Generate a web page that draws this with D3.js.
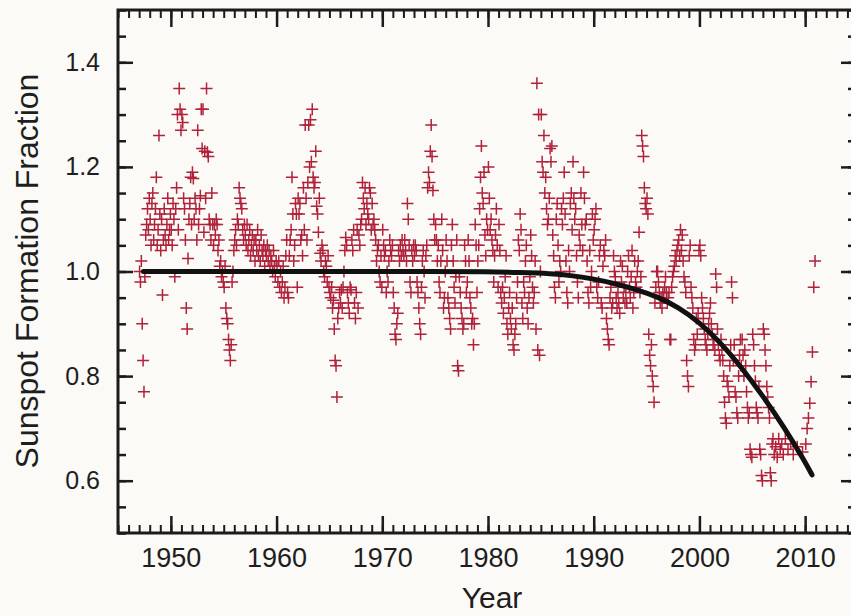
<!DOCTYPE html>
<html><head><meta charset="utf-8">
<script src="https://cdn.jsdelivr.net/npm/d3@7"></script>
<style>html,body{margin:0;padding:0;background:#fbfaf6;} svg{display:block;}</style>
</head><body>
<svg id="chart" width="851" height="616"></svg>
<script>
// ---- data ----
const obsYears = [1947,1948,1949,1950,1951,1952,1953,1954,1955,1956,1957,1958,1959,
  1960,1961,1962,1963,1964,1965,1966,1967,1968,1969,1970,1971,1972,1973,1974,1975,1976,1977,1978,1979,
  1980,1981,1982,1983,1984,1985,1986,1987,1988,1989,1990,1991,1992,1993,1994,1995,1996,1997,1998,1999,
  2000,2001,2002,2003,2004,2005,2006,2007,2008,2009,2010];
const obsValues = [
  [1.00,0.98,1.02,0.90,0.83,0.77,0.99,1.07,1.09,1.12,1.08,1.14],
  [1.10,1.05,1.13,1.15,1.06,1.09,1.12,1.18,1.05,1.08,1.26,1.11],
  [1.04,1.10,0.955,1.06,1.12,1.07,1.05,1.09,1.14,1.06,1.08,1.11],
  [1.08,1.05,1.13,1.10,0.99,1.12,1.16,1.30,1.08,1.35,1.31,1.27],
  [1.30,1.285,1.14,1.12,1.06,0.93,0.89,1.025,1.10,1.13,1.18,1.09],
  [1.19,1.178,1.10,1.14,1.12,1.06,1.27,1.09,1.12,1.145,1.31,1.235],
  [1.31,1.075,1.23,1.14,1.35,1.228,1.22,1.10,1.09,1.06,1.15,1.09],
  [1.05,1.09,1.07,1.10,1.09,1.04,1.06,1.01,1.02,0.99,1.00,0.98],
  [0.97,1.01,0.93,0.91,0.90,0.87,0.85,0.83,0.86,0.98,1.00,1.04],
  [1.06,1.08,1.05,1.10,1.09,1.16,1.14,1.13,1.12,1.08,1.06,1.09],
  [1.07,1.05,1.09,1.04,1.06,1.08,1.03,1.05,1.07,1.04,1.06,1.02],
  [1.06,1.04,1.08,1.03,1.05,1.02,1.07,1.04,1.03,1.05,1.01,1.04],
  [1.03,1.05,1.02,1.04,1.01,1.03,1.02,1.00,1.04,1.01,0.99,1.02],
  [1.01,0.98,1.02,0.97,1.00,0.96,0.98,1.01,0.95,0.97,1.03,1.06],
  [0.96,0.95,1.03,1.06,1.08,1.18,1.11,1.02,1.05,1.13,1.11,0.97],
  [1.14,1.11,1.13,1.06,1.07,1.03,1.16,1.08,1.28,1.14,1.06,1.17],
  [1.28,1.20,1.29,1.21,1.31,1.18,1.16,1.17,1.23,1.125,1.11,1.075],
  [1.14,1.035,1.02,1.05,1.04,1.00,0.99,1.02,1.01,0.98,1.03,0.97],
  [0.96,0.95,0.97,0.93,0.945,0.89,0.83,0.82,0.76,0.91,0.93,0.96],
  [0.94,0.965,0.93,0.97,1.00,1.04,1.065,1.05,0.96,0.94,0.92,0.97],
  [0.965,1.06,1.04,1.08,0.94,0.91,0.96,1.08,0.93,1.07,1.05,1.09],
  [1.10,1.17,1.14,1.12,1.16,1.09,1.13,1.11,1.10,1.16,1.15,1.08],
  [1.13,1.09,1.10,1.08,1.06,1.02,1.04,1.05,1.00,0.98,1.03,0.97],
  [1.08,1.05,1.03,1.04,0.96,1.00,0.98,1.02,1.06,1.04,1.03,1.05],
  [0.96,0.93,0.88,0.87,0.90,0.92,1.04,1.02,1.05,1.03,1.06,1.04],
  [1.03,1.06,1.04,1.02,1.13,1.10,1.05,0.98,0.96,1.04,1.02,1.05],
  [1.03,1.05,1.04,0.98,0.96,0.93,0.90,0.88,0.97,1.02,1.04,1.00],
  [0.95,1.03,1.05,1.16,1.19,1.17,1.23,1.28,1.22,1.155,1.10,1.06],
  [1.09,1.06,1.02,1.05,0.98,0.96,1.02,1.10,1.04,0.93,0.95,1.00],
  [1.06,1.02,0.95,0.93,0.91,0.89,1.05,1.09,1.02,0.97,0.94,0.99],
  [1.06,0.82,0.81,0.99,0.96,0.93,0.91,0.89,0.90,1.05,1.02,0.96],
  [0.98,1.06,1.02,0.95,0.93,0.90,0.91,0.86,0.90,1.09,1.05,0.96],
  [1.02,1.05,1.12,1.18,1.24,1.15,1.13,1.19,1.07,1.03,1.10,1.08],
  [1.20,1.14,1.08,1.10,1.06,1.04,0.98,1.03,1.07,1.12,1.05,0.97],
  [1.09,1.04,0.96,0.94,0.97,0.92,0.95,0.99,1.03,0.90,0.88,0.93],
  [0.96,0.91,0.89,0.93,0.86,0.85,0.88,0.90,0.95,0.98,1.06,1.04],
  [1.11,1.08,0.94,0.91,0.98,0.96,1.02,1.05,0.93,0.90,0.95,0.99],
  [1.07,1.03,0.97,0.94,0.96,1.02,0.89,1.36,0.85,1.30,0.84,1.00],
  [1.30,1.21,1.19,1.26,1.15,1.18,1.12,1.09,1.10,1.14,1.235,1.21],
  [1.24,1.07,1.03,0.97,0.95,1.10,1.13,1.05,0.98,1.02,1.00,1.12],
  [1.09,1.14,1.19,1.11,1.02,0.96,0.94,1.04,1.00,1.13,1.15,1.08],
  [1.21,1.14,1.10,1.12,1.03,0.98,0.95,1.07,1.05,1.15,1.09,1.04],
  [1.19,1.14,1.09,1.10,1.02,0.96,0.94,1.04,0.97,1.00,1.11,1.06],
  [1.08,1.10,1.12,0.97,0.95,0.98,1.03,1.05,0.94,0.93,1.01,1.04],
  [1.03,1.06,0.91,0.89,0.87,0.86,0.95,0.97,0.93,0.94,1.03,1.00],
  [0.99,0.95,0.93,0.96,0.94,0.92,1.02,0.98,1.01,0.95,0.97,0.94],
  [0.96,0.94,1.00,1.03,0.97,0.95,0.99,1.04,0.93,0.96,1.02,0.98],
  [0.97,1.00,1.02,1.075,0.96,0.99,1.26,1.24,1.22,1.16,1.13,1.12],
  [1.14,1.11,0.88,0.84,0.82,0.86,0.80,0.78,0.75,0.94,0.97,1.00],
  [1.00,0.98,0.96,0.94,0.95,0.93,0.96,0.95,0.97,0.99,0.96,0.94],
  [0.95,0.96,0.87,0.87,0.97,0.99,1.00,1.01,1.03,1.02,1.04,1.05],
  [1.06,1.03,1.08,1.04,1.07,1.02,0.99,0.98,0.96,0.83,0.80,0.78],
  [1.03,1.05,0.97,0.95,0.93,0.87,0.85,0.86,0.91,0.88,0.92,1.04],
  [1.05,1.03,0.95,0.93,0.91,0.89,0.87,0.86,0.85,0.88,0.90,0.92],
  [0.94,0.90,0.88,0.86,0.87,0.85,0.995,0.97,0.89,0.86,0.84,0.83],
  [0.87,0.85,0.83,0.80,0.75,0.72,0.71,0.79,0.78,0.76,0.82,0.86],
  [0.98,0.95,0.83,0.86,0.77,0.76,0.73,0.72,0.80,0.84,0.87,0.82],
  [0.87,0.84,0.80,0.85,0.82,0.77,0.74,0.72,0.73,0.66,0.65,0.645],
  [0.88,0.86,0.82,0.79,0.74,0.73,0.72,0.78,0.66,0.65,0.61,0.60],
  [0.89,0.88,0.85,0.82,0.78,0.76,0.74,0.72,0.615,0.60,0.67,0.68],
  [0.65,0.665,0.645,0.68,0.66,0.67,0.65],
  [0.68,0.66,0.67,0.65],
  [0.665,0.655],
  [0.67,0.70,0.72,0.748,0.789,0.846,0.97,1.02]
];
const fitYears  = [1947.4,1955,1965,1975,1980,1983,1986,1988,1990,1992,1994,1996,1998,2000,2002,2004,2006,2008,2010,2010.65];
const fitValues = [1.0,1.0,1.0,1.0,0.9995,0.998,0.996,0.992,0.986,0.977,0.966,0.952,0.932,0.903,0.864,0.816,0.762,0.703,0.636,0.611];
const xMajorTicks = [1950,1960,1970,1980,1990,2000,2010];
const yMajorTicks = [0.6,0.8,1.0,1.2,1.4];
const xTitle = "Year";
const yTitle = "Sunspot Formation Fraction";

// ---- layout ----
const svg = d3.select("#chart");
const L = 118, R = 858, T = 10, B = 533;
const x = d3.scaleLinear().domain([1945, 2015]).range([L, R]);
const y = d3.scaleLinear().domain([0.5, 1.5]).range([B, T]);
const ink = "#1b1b1b";
const red = "#b0213a";

const points = [];
obsYears.forEach((yr, i) => {
  const vals = obsValues[i];
  vals.forEach((v, m) => points.push({t: yr + (m + 0.5) / vals.length, v}));
});

svg.append("rect").attr("width", 851).attr("height", 616).attr("fill", "#fbfaf6");

// points
svg.append("g").selectAll("path").data(points).join("path")
  .attr("transform", d => `translate(${x(d.t)},${y(d.v)})`)
  .attr("d", "M-6,0H6M0,-6V6")
  .attr("stroke", red).attr("stroke-width", 1.5).attr("fill", "none");

// fit curve
const fit = fitYears.map((t, i) => ({t, v: fitValues[i]}));
svg.append("path").datum(fit)
  .attr("d", d3.line().x(d => x(d.t)).y(d => y(d.v)).curve(d3.curveBasis))
  .attr("fill", "none").attr("stroke", "#111").attr("stroke-width", 5).attr("stroke-linecap", "round");

// ticks
const minorX = d3.range(1945, 2016);
const minorY = d3.range(0, 21).map(i => +(0.5 + i * 0.05).toFixed(2));
function styleTicks(g, w) {
  g.select(".domain").remove();
  g.selectAll("line").attr("stroke", ink).attr("stroke-width", w);
  g.selectAll("text").remove();
}
svg.append("g").attr("transform", `translate(0,${B})`).call(d3.axisBottom(x).tickValues(minorX).tickSize(-8)).call(g => styleTicks(g, 2));
svg.append("g").attr("transform", `translate(0,${B})`).call(d3.axisBottom(x).tickValues(xMajorTicks).tickSize(-17)).call(g => styleTicks(g, 2.5));
svg.append("g").attr("transform", `translate(0,${T})`).call(d3.axisTop(x).tickValues(minorX).tickSize(-8)).call(g => styleTicks(g, 2));
svg.append("g").attr("transform", `translate(0,${T})`).call(d3.axisTop(x).tickValues(xMajorTicks).tickSize(-17)).call(g => styleTicks(g, 2.5));
svg.append("g").attr("transform", `translate(${L},0)`).call(d3.axisLeft(y).tickValues(minorY).tickSize(-8)).call(g => styleTicks(g, 2.5));
svg.append("g").attr("transform", `translate(${L},0)`).call(d3.axisLeft(y).tickValues(yMajorTicks).tickSize(-15)).call(g => styleTicks(g, 2.5));
svg.append("g").attr("transform", `translate(${R},0)`).call(d3.axisRight(y).tickValues(minorY).tickSize(-10)).call(g => styleTicks(g, 2.5));
svg.append("g").attr("transform", `translate(${R},0)`).call(d3.axisRight(y).tickValues(yMajorTicks).tickSize(-17)).call(g => styleTicks(g, 2.5));

// frame
svg.append("rect").attr("x", L).attr("y", T).attr("width", R - L).attr("height", B - T)
  .attr("fill", "none").attr("stroke", ink).attr("stroke-width", 3);

// tick labels
const font = "'Liberation Sans', Arial, Helvetica, sans-serif";
const xl = svg.append("g").attr("transform", `translate(0,${B})`)
  .call(d3.axisBottom(x).tickValues(xMajorTicks).tickSize(0).tickPadding(15).tickFormat(d3.format("d")));
xl.select(".domain").remove();
xl.selectAll("text").attr("font-family", font).attr("font-size", 27).attr("fill", "#1e1e1e");

const yl = svg.append("g").attr("transform", `translate(${L},0)`)
  .call(d3.axisLeft(y).tickValues(yMajorTicks).tickSize(0).tickPadding(18).tickFormat(d3.format(".1f")));
yl.select(".domain").remove();
yl.selectAll("text").attr("font-family", font).attr("font-size", 25).attr("fill", "#1e1e1e");

// titles
svg.append("text").attr("x", 492).attr("y", 608).attr("text-anchor", "middle")
  .attr("font-family", font).attr("font-size", 30).attr("fill", "#1e1e1e").text(xTitle);
svg.append("text").attr("transform", "translate(38,271) rotate(-90)").attr("text-anchor", "middle")
  .attr("font-family", font).attr("font-size", 32).attr("fill", "#1e1e1e").text(yTitle);
</script>
</body></html>
